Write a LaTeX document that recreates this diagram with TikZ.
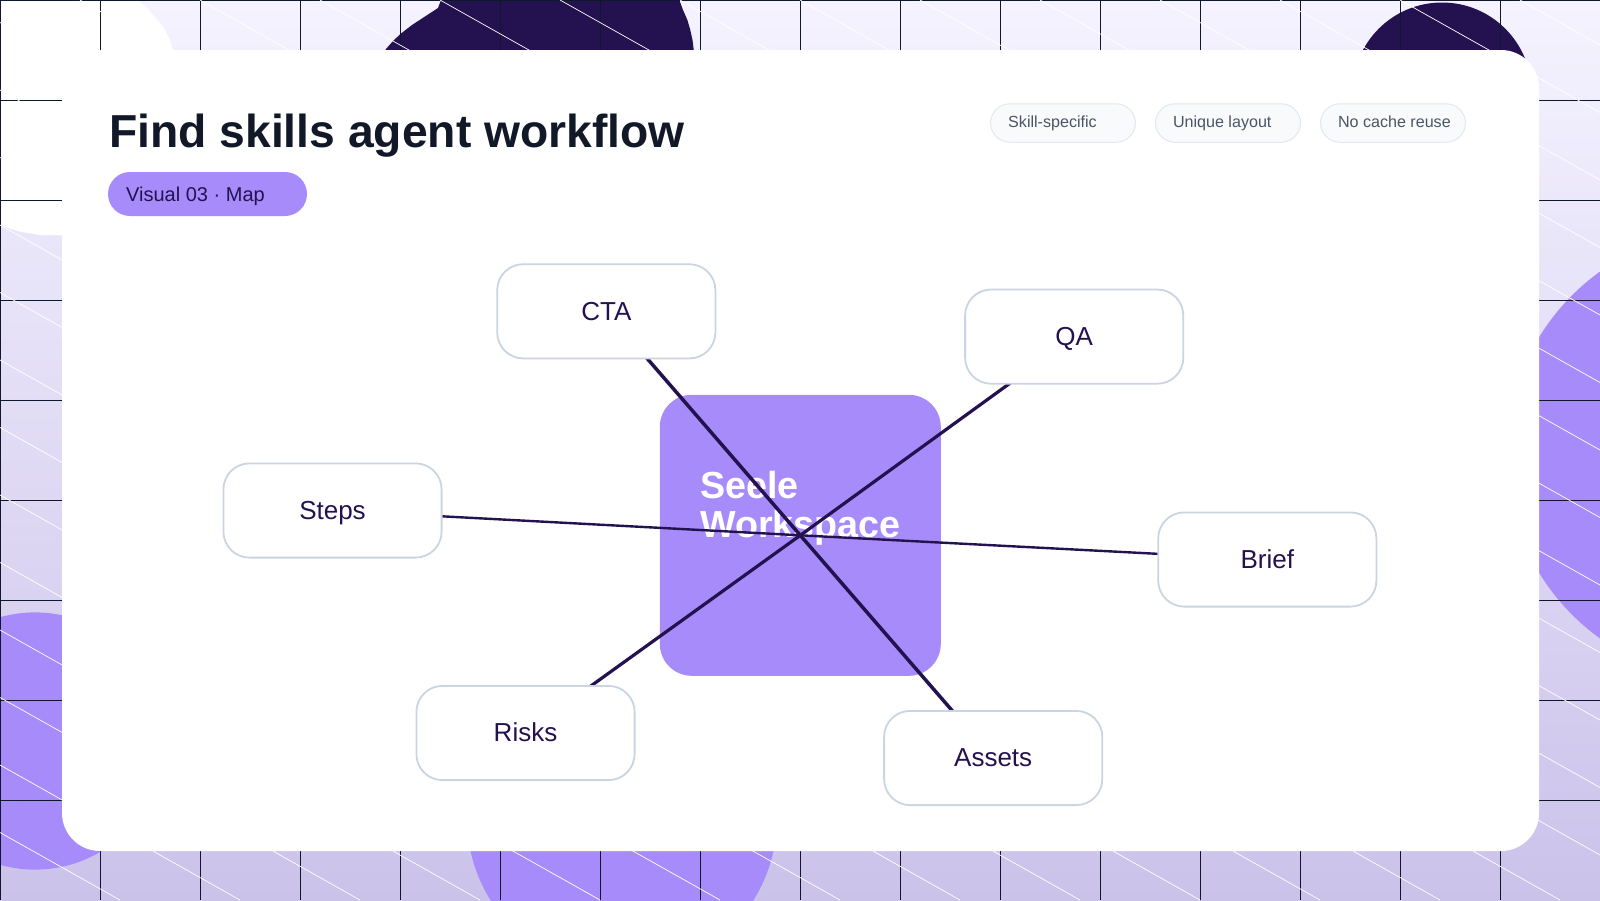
\documentclass[tikz,border=0pt]{standalone}
\usepackage{fontspec}
\setmainfont{Liberation Sans}
\pgfdeclarelayer{back}
\pgfdeclarelayer{wires}
\pgfsetlayers{back,wires,main}
\definecolor{ink}{HTML}{24114F}
\definecolor{violet}{HTML}{A78BFA}
\definecolor{gridc}{HTML}{0F172A}
\definecolor{titlec}{HTML}{111827}
\definecolor{chipfill}{HTML}{F8FAFC}
\definecolor{chipline}{HTML}{E2E8F0}
\definecolor{chiptext}{HTML}{4B5563}
\definecolor{boxline}{HTML}{CBD5E1}
\definecolor{bgtop}{HTML}{F5F3FF}
\definecolor{bgbot}{HTML}{CBC2EA}
\tikzset{
  px/.style={x=1pt,y=-1pt},
  gridline/.style={draw=gridc,line width=1pt},
  hatch/.style={draw=white,line width=.7pt},
  outer/.style={draw=boxline,fill=white,line width=1.8pt,rounded corners=26pt,minimum width=218.2pt,minimum height=94.2pt,inner sep=0pt,text=ink,font=\fontsize{26}{29}\selectfont,text height=17.5pt,text depth=0pt},
  chip/.style={draw=chipline,fill=chipfill,line width=1pt,rounded corners=19.5pt,minimum width=145pt,minimum height=38.5pt,inner sep=0pt},
  chiplabel/.style={anchor=base west,inner sep=0pt,text=chiptext,font=\fontsize{16.1}{19}\selectfont},
  wire/.style={draw=ink},
}
\begin{document}
\begin{tikzpicture}[px]
\useasboundingbox (0,0) rectangle (1600,900);
\begin{pgfonlayer}{back}
\clip (0,0) rectangle (1600,900);
\shade[top color=bgtop,bottom color=bgbot] (0,0) rectangle (1600,900);
% soft shapes
\fill[white] (0,0) -- (138.3,0) -- (146,7) -- (153,15) -- (160,23) -- (165,30) -- (170,40) -- (173,50) -- (173,60) -- (62,240) -- (62,235.3) -- (40,235) -- (20,231.7) -- (8,228) -- (0,225) -- cycle;
\fill[violet] (35,741) circle (128.6);
\fill[violet] (622,818) circle (155);
\fill[violet] (1732,455) circle (226);
\fill[ink] (1442,92) circle (89.5);
\fill[ink] (384,52) -- (386,49) -- (393,41) -- (401,33.5) -- (412,25) -- (425,16.5) -- (438,8) -- (441,0) -- (679.3,0) -- (683,10) -- (687.4,20) -- (690.3,30) -- (692.5,40) -- (694,52) -- cycle;
% grid
\foreach \k in {0,100,...,1500} {\draw[gridline] (\k+.5,0) -- (\k+.5,900);}
\foreach \k in {0,100,...,800} {\draw[gridline] (0,\k+.5) -- (1600,\k+.5);}
% diagonal hatching
\foreach \k in {-13,...,12} {\draw[hatch] ({80+120*\k},0) -- ({1680+120*\k},900);}
% card
\fill[white,rounded corners=38pt] (62,50) rectangle (1539,851);
\fill[white] (62,50) rectangle (120,100);
% header
\node[anchor=base west,inner sep=0pt,text=titlec,font=\fontsize{46.25}{50}\selectfont\bfseries] (title) at (109,147) {Find skills agent workflow};
\node[fill=violet,rounded corners=22pt,minimum width=199pt,minimum height=44pt,inner sep=0pt] (pill) at (207.5,194) {};
\node[anchor=base west,inner sep=0pt,text=ink,font=\fontsize{20}{24}\selectfont] (pilltext) at (126,201) {Visual 03 · Map};
\node[chip] (chipa) at (1063,123) {};
\node[chip] (chipb) at (1228,123) {};
\node[chip] (chipc) at (1393,123) {};
\node[chiplabel] (chipatext) at (1008,127) {Skill-specific};
\node[chiplabel] (chipbtext) at (1172.8,127) {Unique layout};
\node[chiplabel] (chipctext) at (1337.8,127) {No cache reuse};
% hub
\node[fill=violet,rounded corners=32pt,minimum width=281pt,minimum height=281pt,inner sep=0pt] (hub) at (800.3,535.3) {};
\node[anchor=base west,inner sep=0pt,text=white,font=\fontsize{37.7}{39.6}\selectfont\bfseries] (huba) at (700,498.2) {Seele};
\node[anchor=base west,inner sep=0pt,text=white,font=\fontsize{37.7}{39.6}\selectfont\bfseries] (hubb) at (700,537) {Workspace};
\end{pgfonlayer}
\node[outer] (cta) at (606.3,311.3) {CTA};
\node[outer] (qa) at (1074.2,336.6) {QA};
\node[outer] (steps) at (332.5,510.5) {Steps};
\node[outer] (brief) at (1267.3,559.5) {Brief};
\node[outer] (risks) at (525.5,733) {Risks};
\node[outer] (assets) at (993.2,758) {Assets};
\begin{pgfonlayer}{wires}
\draw[wire,line width=2.4pt] (steps.center) -- (hub.center) -- (brief.center);
\draw[wire,line width=3.5pt] (cta.center) -- (hub.center) -- (assets.center);
\draw[wire,line width=3.2pt] (qa.center) -- (hub.center) -- (risks.center);
\end{pgfonlayer}
\end{tikzpicture}
\end{document}
